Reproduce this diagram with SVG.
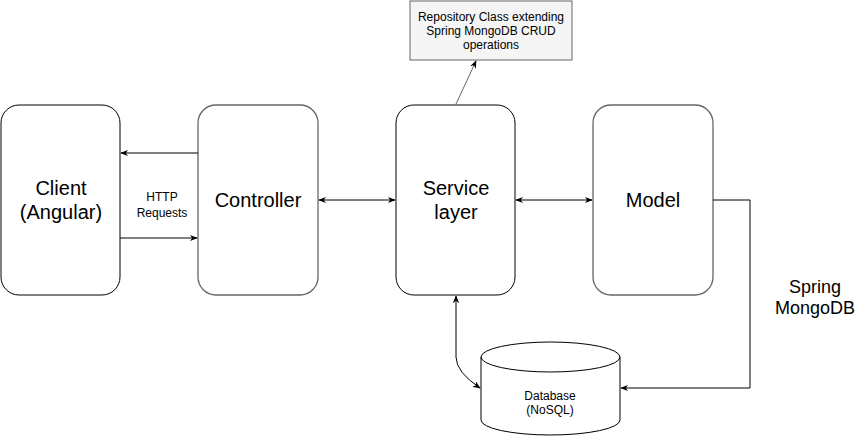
<svg xmlns="http://www.w3.org/2000/svg" width="861" height="436" viewBox="0 0 861 436">
<defs>
<style>
.box{fill:#fff;stroke:#000;stroke-width:1}
.gbox{fill:#fff;stroke:#666;stroke-width:1.3}
.t{font-family:"Liberation Sans",Arial,sans-serif;fill:#000;text-anchor:middle}
.big{font-size:20px}
.sm{font-size:12px}
.c{fill:none;stroke:#000;stroke-width:1}
</style>
<marker id="ah" viewBox="0 0 10 10" refX="9" refY="5" markerWidth="8" markerHeight="8" orient="auto-start-reverse" markerUnits="userSpaceOnUse">
<path d="M0,1 L10,5 L0,9 L3,5 Z" fill="#000"/>
</marker>
</defs>
<rect width="861" height="436" fill="#fff"/>
<g id="client">
<rect class="box" x="1" y="105" width="119" height="190" rx="18"/>
<text class="t big" x="61" y="195">Client</text>
<text class="t big" x="61" y="219">(Angular)</text>
</g>
<g id="controller">
<rect class="gbox" x="198" y="105" width="120" height="190" rx="18"/>
<text class="t big" x="258" y="207">Controller</text>
</g>
<g id="service">
<rect class="box" x="396" y="105" width="119" height="190" rx="18"/>
<text class="t big" x="456" y="195">Service</text>
<text class="t big" x="456" y="219">layer</text>
</g>
<g id="model">
<rect class="gbox" x="593" y="105" width="120" height="190" rx="18"/>
<text class="t big" x="653" y="207">Model</text>
</g>
<g id="repository">
<rect x="410" y="1" width="162" height="59" fill="#f5f5f5" stroke="#666"/>
<text class="t sm" x="491" y="21">Repository Class extending</text>
<text class="t sm" x="491" y="35">Spring MongoDB CRUD</text>
<text class="t sm" x="491" y="49">operations</text>
</g>
<g id="database">
<path class="box" d="M481,357 A69.5,15 0 0 1 620,357 L620,420 A69.5,15 0 0 1 481,420 Z"/>
<path class="c" d="M481,357 A69.5,15 0 0 0 620,357"/>
<text class="t sm" x="550" y="400">Database</text>
<text class="t sm" x="550" y="414">(NoSQL)</text>
</g>
<g id="label-spring">
<text class="t" style="font-size:18px" x="815" y="293">Spring</text>
<text class="t" style="font-size:18px" x="815" y="314">MongoDB</text>
</g>
<g id="label-http">
<text class="t sm" x="162" y="201">HTTP</text>
<text class="t sm" x="162" y="217">Requests</text>
</g>
<g id="connectors">
<path class="c" stroke="#333" d="M198,153 L121,153" marker-end="url(#ah)"/>
<path class="c" d="M120,238 L197,238" marker-end="url(#ah)"/>
<path class="c" d="M319,200 L395,200" marker-start="url(#ah)" marker-end="url(#ah)"/>
<path class="c" d="M516,200 L592,200" marker-start="url(#ah)" marker-end="url(#ah)"/>
<path class="c" style="stroke:#666" d="M456,104 L476,61" marker-end="url(#ah)"/>
<path class="c" d="M456,296 L456,357 Q456,372 480,388" marker-start="url(#ah)" marker-end="url(#ah)"/>
<path class="c" d="M713,200 L750,200 L750,388 L621,388" marker-end="url(#ah)"/>
</g>
</svg>
